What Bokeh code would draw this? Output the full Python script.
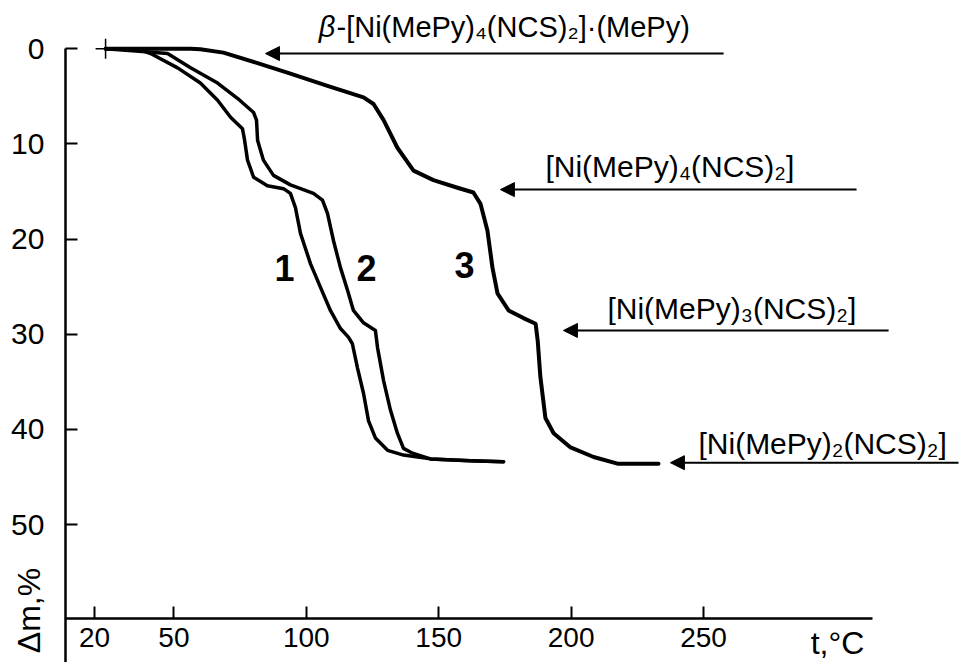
import math
from bokeh.plotting import figure
from bokeh.models import Range1d, LinearAxis, FixedTicker, Arrow, NormalHead
from bokeh.core.properties import value
from bokeh.embed import file_html
from bokeh.resources import INLINE

# ---------------- data ----------------
x_ticks = [20, 50, 100, 150, 200, 250]
y_ticks = [0, 10, 20, 30, 40, 50]

curve1_t = [24.2, 31.7, 37.4, 41.2, 51.4, 60.0, 66.5, 71.4, 75.9, 76.7, 77.8, 80.1,
            85.3, 91.4, 94.0, 95.9, 97.8, 101.6, 105.4, 109.1, 112.9, 115.9, 117.4,
            119.3, 121.6, 123.5, 126.1, 130.7, 136.7, 146.9, 162.0, 174.5]
curve1_dm = [0.0, 0.0, 0.1, 0.5, 2.0, 3.6, 5.4, 7.2, 8.4, 9.6, 11.7, 13.5,
             14.4, 14.7, 15.2, 16.7, 19.4, 22.6, 25.1, 27.5, 29.4, 30.3, 31.0,
             33.5, 36.2, 39.1, 40.9, 42.2, 42.7, 43.1, 43.3, 43.4]

curve2_t = [24.2, 39.3, 47.6, 56.3, 66.5, 74.0, 80.1, 81.2, 81.6, 83.8, 87.6, 94.0,
            102.7, 106.1, 108.0, 110.3, 112.9, 115.6, 117.8, 121.6, 126.1, 126.9,
            129.2, 131.8, 134.4, 136.7, 140.1, 146.9, 162.0, 174.5]
curve2_dm = [0.0, 0.3, 0.5, 2.0, 3.6, 5.2, 6.7, 7.5, 9.6, 11.7, 13.3, 14.3,
             15.2, 15.9, 17.3, 20.2, 23.0, 25.4, 27.5, 28.8, 29.6, 31.4,
             34.9, 38.0, 40.4, 42.0, 42.5, 43.1, 43.3, 43.4]

curve3_t = [24.2, 40.0, 56.3, 60.0, 68.7, 81.6, 94.0, 108.0, 121.6, 125.4, 129.2,
            134.4, 140.5, 148.0, 157.1, 163.1, 165.8, 168.4, 170.3, 172.2, 176.4,
            182.0, 186.6, 187.4, 188.4, 190.3, 193.4, 199.8, 208.5, 217.5, 233.0]
curve3_dm = [0.0, 0.0, 0.0, 0.05, 0.4, 1.5, 2.6, 3.9, 5.1, 5.8, 7.5,
             10.4, 12.8, 13.8, 14.6, 15.1, 16.3, 19.1, 23.0, 25.7, 27.5,
             28.3, 28.9, 30.7, 34.5, 38.8, 40.4, 41.9, 42.9, 43.6, 43.6]

curve_names = ["1", "2", "3"]
curve_label_t = [91.8, 122.7, 159.7]
curve_label_dm = [23.0, 23.0, 22.7]

phase_labels = ["[Ni(MePy)\u2084(NCS)\u2082]", "[Ni(MePy)\u2083(NCS)\u2082]",
                "[Ni(MePy)\u2082(NCS)\u2082]"]
phase_label_t = [190.3, 213.7, 248.1]
phase_label_dm = [12.35, 27.25, 41.45]

top_label_beta = "\u03b2"
top_label_rest = "-[Ni(MePy)\u2084(NCS)\u2082]\u00b7(MePy)"
top_label_t = 111.0
top_label_dm = -2.3

arrow_dm = [0.5, 14.8, 29.6, 43.5]
arrow_t_tail = [257.6, 307.8, 319.9, 346.3]
arrow_t_head = [84.6, 173.3, 197.1, 237.5]

start_t = [24.2]
start_dm = [0.0]

FONT = "Liberation Sans"

# ---------------- figure ----------------
p = figure(width=960, height=662, output_backend="svg", toolbar_location=None,
           x_range=Range1d(-15.48, 347.05), y_range=Range1d(64.50, -5.077),
           x_axis_location=None, y_axis_location=None, min_border=0,
           background_fill_color="white", border_fill_color="white")
p.outline_line_color = None
p.xgrid.visible = False
p.ygrid.visible = False

yaxis = LinearAxis(fixed_location=9.06, ticker=FixedTicker(ticks=y_ticks),
                   bounds=(0, 64.5))
xaxis = LinearAxis(fixed_location=59.88, ticker=FixedTicker(ticks=x_ticks),
                   bounds=(9.06, 313.8))
for ax in (xaxis, yaxis):
    ax.major_tick_in = 12
    ax.major_tick_out = 0
    ax.minor_tick_in = 0
    ax.minor_tick_out = 0
    ax.axis_line_width = 2.5
    ax.axis_line_color = "black"
    ax.major_tick_line_width = 2
    ax.major_tick_line_color = "black"
    ax.major_label_text_font = FONT
    ax.major_label_text_color = "black"
yaxis.major_label_text_font_size = "30px"
xaxis.major_label_text_font_size = "28px"
yaxis.major_label_standoff = 21
xaxis.major_label_standoff = 9
p.add_layout(yaxis, "left")
p.add_layout(xaxis, "below")

# curves
p.line(curve1_t, curve1_dm, line_width=3.5, line_color="black",
       line_join="round", line_cap="round")
p.line(curve2_t, curve2_dm, line_width=3.5, line_color="black",
       line_join="round", line_cap="round")
p.line(curve3_t, curve3_dm, line_width=4, line_color="black",
       line_join="round", line_cap="round")
p.scatter(start_t, start_dm, marker="cross", size=20, line_width=1.5,
          line_color="black")

# curve labels
p.text(curve_label_t, curve_label_dm, text=curve_names, text_font=value(FONT),
       text_font_style="bold", text_font_size="36px", text_align="center",
       text_baseline="middle", text_color="black")

# phase labels
p.text(phase_label_t, phase_label_dm, text=phase_labels, text_font=value(FONT),
       text_font_size="30px", text_align="left", text_baseline="alphabetic",
       text_color="black")
p.text([top_label_t], [top_label_dm], text=[top_label_beta], text_font=value(FONT),
       text_font_style="italic", text_font_size="29px", text_align="right",
       text_baseline="alphabetic", text_color="black")
p.text([top_label_t + 0.4], [top_label_dm], text=[top_label_rest],
       text_font=value(FONT), text_font_size="29px", text_align="left",
       text_baseline="alphabetic", text_color="black")

# arrows
for dm, t0, t1 in zip(arrow_dm, arrow_t_tail, arrow_t_head):
    p.add_layout(Arrow(end=NormalHead(size=14, fill_color="black", line_color="black",
                                      line_width=1),
                       x_start=t0, y_start=dm, x_end=t1, y_end=dm,
                       line_width=2, line_color="black"))

# axis titles
p.text([-4.53], [59.04], text=["\u0394m,%"], text_font=value(FONT),
       text_font_size="32px", text_align="center", text_baseline="middle",
       angle=math.pi / 2, text_color="black")
p.text([300.6], [62.4], text=["t,\u00b0C"], text_font=value(FONT),
       text_font_size="32px", text_align="center", text_baseline="middle",
       text_color="black")

open("out.html", "w").write(file_html(p, INLINE))
